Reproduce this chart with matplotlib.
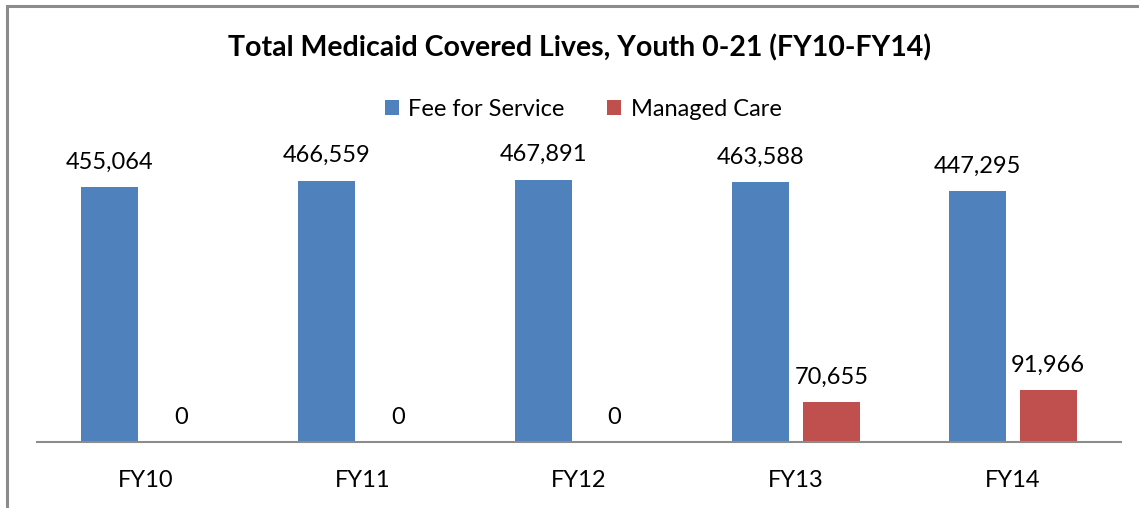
import matplotlib
matplotlib.use("Agg")
import matplotlib.pyplot as plt
from matplotlib.patches import Rectangle
import numpy as np

categories = ["FY10", "FY11", "FY12", "FY13", "FY14"]
fee_for_service = [455064, 466559, 467891, 463588, 447295]
managed_care = [0, 0, 0, 70655, 91966]
series_names = ["Fee for Service", "Managed Care"]
colors = ["#4F81BD", "#C0504D"]

plt.rcParams['font.family'] = ['Lato', 'DejaVu Sans']

W, H = 1139, 508
fig = plt.figure(figsize=(W / 100, H / 100), dpi=100)

# outer border (top and left visible)
fig.add_artist(Rectangle((7 / W, -0.1), 1.2, (H - 6) / H + 0.1, transform=fig.transFigure,
                         fill=False, edgecolor="#8c8c8c", linewidth=2.2))

ax = fig.add_axes([37 / W, 66 / H, (1121 - 37) / W, 292 / H])
x = np.arange(len(categories))
bw = 0.263
off = 0.164
b1 = ax.bar(x - off, fee_for_service, bw, color=colors[0], label=series_names[0])
b2 = ax.bar(x + off, managed_care, bw, color=colors[1], label=series_names[1])

for bars, vals in ((b1, fee_for_service), (b2, managed_care)):
    for rect, v in zip(bars, vals):
        ax.annotate(f"{v:,}", (rect.get_x() + rect.get_width() / 2, v),
                    xytext=(0, 18), textcoords="offset points",
                    ha="center", va="center", fontsize=17, color="black")

ax.set_xlim(-0.5, len(categories) - 0.5)
ax.set_ylim(0, 521000)
ax.set_yticks([])
ax.set_xticks(x)
ax.set_xticklabels(categories, fontsize=17)
ax.tick_params(axis="x", length=0, pad=20)
for s in ["top", "right", "left"]:
    ax.spines[s].set_visible(False)
ax.spines["bottom"].set_color("#8c8c8c")
ax.spines["bottom"].set_linewidth(1.5)

fig.text(580 / W, 1 - 48 / H, "Total Medicaid Covered Lives, Youth 0-21 (FY10-FY14)",
         ha="center", va="center", fontsize=20.5, fontweight="bold")

fig.legend(handles=[b1, b2], labels=series_names, loc="center",
           bbox_to_anchor=(583 / W, 1 - 109 / H), ncol=2, frameon=False,
           fontsize=17, handlelength=0.6, handleheight=0.6, handletextpad=0.4,
           columnspacing=1.8)

fig.savefig("out.png", dpi=100)
